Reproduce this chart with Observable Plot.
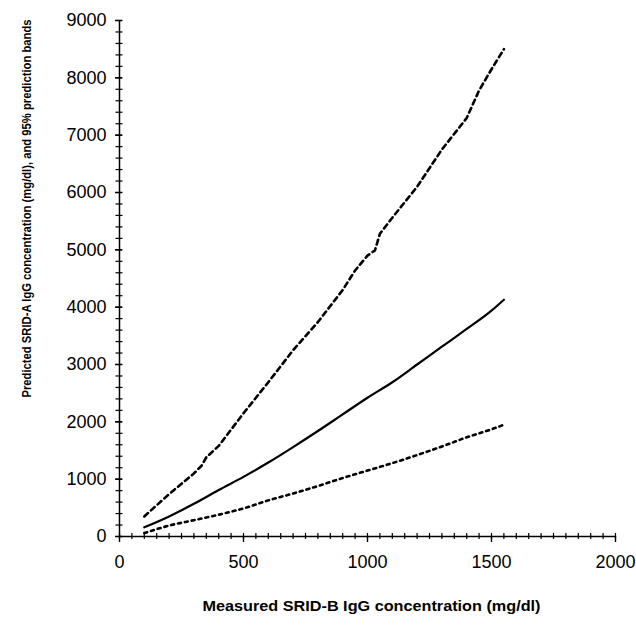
<!DOCTYPE html>
<html><head><meta charset="utf-8">
<script src="https://cdn.jsdelivr.net/npm/d3@7"></script>
<script src="https://cdn.jsdelivr.net/npm/@observablehq/plot@0.6"></script>
<style>body{margin:0;background:#fff;}</style>
</head><body><div id="chart"></div>
<script>
// Measured SRID-B IgG (mg/dl)
const fitX = [100, 200, 300, 400, 500, 600, 700, 800, 900, 1000, 1100, 1200, 1300, 1400, 1500, 1550];
// Predicted SRID-A IgG (mg/dl)
const fitY = [160, 350, 570, 810, 1040, 1290, 1560, 1840, 2130, 2420, 2690, 3000, 3310, 3620, 3940, 4130];
// lower 95% prediction band
const lowerX = [100, 200, 300, 400, 500, 600, 700, 800, 900, 1000, 1100, 1200, 1300, 1400, 1500, 1550];
const lowerY = [60, 190, 285, 380, 490, 630, 750, 880, 1020, 1150, 1280, 1420, 1570, 1730, 1870, 1950];
// upper 95% prediction band
const upperX = [100, 200, 300, 330, 350, 400, 500, 600, 700, 800, 900, 950, 1000, 1030, 1050, 1100, 1200, 1300, 1400, 1450, 1500, 1550];
const upperY = [350, 740, 1100, 1230, 1380, 1580, 2150, 2690, 3250, 3740, 4300, 4640, 4900, 4990, 5280, 5560, 6100, 6750, 7300, 7780, 8150, 8500];

const xMajorTicks = [0, 500, 1000, 1500, 2000];
const xMinorTicks = d3.range(0, 2001, 50);
const yMajorTicks = [0, 1000, 2000, 3000, 4000, 5000, 6000, 7000, 8000, 9000];
const yMinorTicks = d3.range(0, 9001, 200);

const xTitle = "Measured SRID-B IgG concentration (mg/dl)";
const yTitle = "Predicted SRID-A IgG concentration (mg/dl), and 95% prediction bands";

const toRows = (xs, ys) => xs.map((x, i) => ({x, y: ys[i]}));

const chart = Plot.plot({
  width: 636, height: 633,
  marginLeft: 119, marginRight: 21, marginTop: 20, marginBottom: 97,
  x: {domain: [0, 2000]},
  y: {domain: [0, 9000]},
  style: {fontFamily: "'Liberation Sans', Arial, sans-serif", background: "white", color: "black"},
  marks: [
    Plot.ruleY([0], {strokeWidth: 1.5}),
    Plot.ruleX([0], {strokeWidth: 1.5}),
    Plot.axisX({ticks: xMinorTicks, tickSize: 6, dy: -3, fill: "none", label: null, strokeWidth: 1.2}),
    Plot.axisX({ticks: xMajorTicks, tickSize: 6, tickPadding: 13, fontSize: 18, tickFormat: d => String(d), label: null, strokeWidth: 1.4}),
    Plot.axisY({ticks: yMinorTicks, tickSize: 7, dx: 3.5, fill: "none", label: null, strokeWidth: 1.2}),
    Plot.axisY({ticks: yMajorTicks, tickSize: 7, dx: 3, tickPadding: 9, fontSize: 18, tickFormat: d => String(d), label: null, strokeWidth: 1.4}),
    Plot.line(toRows(upperX, upperY), {x: "x", y: "y", strokeWidth: 2.6, strokeDasharray: "5,4"}),
    Plot.line(toRows(fitX, fitY), {x: "x", y: "y", curve: "monotone-x", strokeWidth: 2.2}),
    Plot.line(toRows(lowerX, lowerY), {x: "x", y: "y", curve: "monotone-x", strokeWidth: 2.6, strokeDasharray: "3,4"}),
    Plot.text([xTitle], {text: d => d, frameAnchor: "bottom", dx: 4, dy: 70, fontSize: 15, fontWeight: "bold", lineAnchor: "middle", className: "xtitle"}),
    Plot.text([yTitle], {text: d => d, frameAnchor: "left", textAnchor: "middle", rotate: -90, dx: -92, dy: -70, fontSize: 12, fontWeight: "bold", lineAnchor: "middle", className: "ytitle"})
  ]
});
d3.select(chart).select(".xtitle text").attr("textLength", 338).attr("lengthAdjust", "spacingAndGlyphs");
d3.select(chart).select(".ytitle text").attr("textLength", 378).attr("lengthAdjust", "spacingAndGlyphs");
document.getElementById("chart").appendChild(chart);
</script>
</body></html>
